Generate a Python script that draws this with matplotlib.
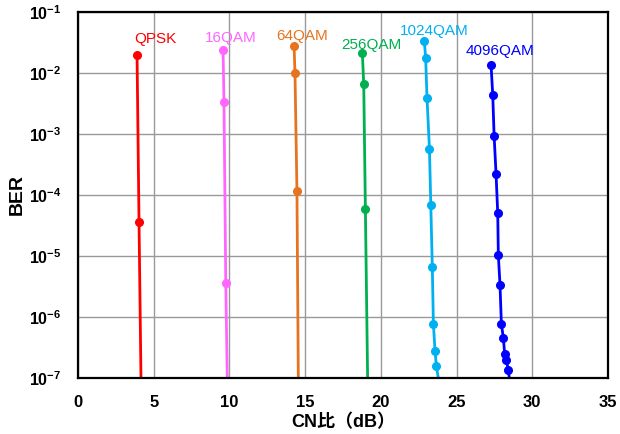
import matplotlib
matplotlib.use('Agg')
import matplotlib.pyplot as plt
import numpy as np

plt.rcParams['font.family'] = ['Liberation Sans', 'Noto Sans CJK JP', 'DejaVu Sans']
plt.rcParams['mathtext.fontset'] = 'custom'
plt.rcParams['mathtext.rm'] = 'Liberation Sans:bold'
plt.rcParams['mathtext.bf'] = 'Liberation Sans:bold'

# data (last point of each series lies below 1e-7, off the axes)
qpsk_cn = [3.9, 4.03, 4.21]
qpsk_ber = [1.97e-2, 3.6e-5, 1e-8]

qam16_cn = [9.58, 9.64, 9.76, 9.92]
qam16_ber = [2.38e-2, 3.35e-3, 3.56e-6, 1e-8]

qam64_cn = [14.27, 14.33, 14.46, 14.58]
qam64_ber = [2.77e-2, 1.0e-2, 1.16e-4, 1e-8]

qam256_cn = [18.78, 18.87, 18.98, 19.18]
qam256_ber = [2.1e-2, 6.6e-3, 5.8e-5, 1e-8]

qam1024_cn = [22.87, 22.96, 23.05, 23.21, 23.30, 23.40, 23.47, 23.58, 23.67, 23.94]
qam1024_ber = [3.35e-2, 1.74e-2, 3.85e-3, 5.74e-4, 6.76e-5, 6.5e-6, 7.76e-7, 2.73e-7, 1.55e-7, 6e-8]

qam4096_cn = [27.28, 27.39, 27.48, 27.61, 27.72, 27.76, 27.87, 27.96, 28.09, 28.18, 28.29, 28.42, 28.6]
qam4096_ber = [1.34e-2, 4.36e-3, 9.4e-4, 2.18e-4, 5.0e-5, 1.03e-5, 3.35e-6, 7.76e-7, 4.53e-7,
               2.47e-7, 1.97e-7, 1.35e-7, 6e-8]

names = ['QPSK', '16QAM', '64QAM', '256QAM', '1024QAM', '4096QAM']
colors = ['#FF0000', '#FF66FF', '#E8731E', '#00B050', '#00B0F0', '#0000FF']
label_pos = [(5.1, 3.6e-2), (10.1, 3.7e-2), (14.8, 4.0e-2), (19.4, 2.9e-2), (23.5, 4.9e-2), (27.9, 2.3e-2)]

series = [(qpsk_cn, qpsk_ber), (qam16_cn, qam16_ber), (qam64_cn, qam64_ber),
          (qam256_cn, qam256_ber), (qam1024_cn, qam1024_ber), (qam4096_cn, qam4096_ber)]

fig = plt.figure(figsize=(6.2, 4.34), dpi=100)
ax = fig.add_axes([0.1258, 0.129, 0.8548, 0.8434])

for (cn, ber), name, c, pos in zip(series, names, colors, label_pos):
    ax.plot(cn, ber, color=c, lw=2, marker='o', ms=5.5)
    ax.text(pos[0], pos[1], name, color=c, fontsize=11, ha='center', va='center')

ax.set_yscale('log')
ax.set_xlim(0, 35)
ax.set_ylim(1e-7, 1e-1)
ax.set_xticks(np.arange(0, 36, 5))
ax.set_yticks([10.0**k for k in range(-7, 0)])
ax.set_yticklabels([r'$\mathbf{10^{%d}}$' % k for k in range(-7, 0)])
ax.minorticks_off()
ax.tick_params(axis='y', length=0, labelsize=11.5, pad=12)
ax.tick_params(axis='x', length=0, labelsize=12, pad=12)
for lab in ax.get_xticklabels():
    lab.set_fontweight('bold')
ax.grid(True, color='#999999', lw=1)
ax.set_axisbelow(True)
for s in ax.spines.values():
    s.set_linewidth(1.6)

ax.set_xlabel('CN比（dB）', fontsize=13, fontweight='bold', labelpad=3)
ax.set_ylabel('BER', fontsize=14, fontweight='bold', labelpad=2)

plt.savefig('out.png', dpi=100)
